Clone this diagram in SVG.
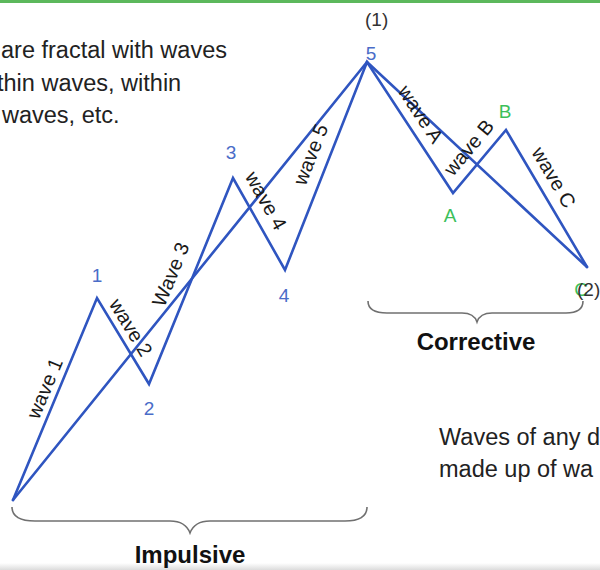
<svg xmlns="http://www.w3.org/2000/svg" width="600" height="570" viewBox="0 0 600 570">
<defs>
<style>
.wl{stroke:#2f55c0;stroke-width:2.6;fill:none;stroke-linejoin:miter;stroke-linecap:round}
.br{stroke:#707070;stroke-width:1.6;fill:none}
.lbl{font-family:"Liberation Sans",Arial,sans-serif;font-size:20px;fill:#1a1a1a;text-anchor:middle}
.num{font-family:"Liberation Sans",Arial,sans-serif;font-size:19px;fill:#4a6cc8;text-anchor:middle}
.grn{font-family:"Liberation Sans",Arial,sans-serif;font-size:19px;fill:#3cbf5a;text-anchor:middle}
.par{font-family:"Liberation Sans",Arial,sans-serif;font-size:19px;fill:#333;}
.body{font-family:"Liberation Sans",Arial,sans-serif;font-size:23.5px;fill:#222}
.bold{font-family:"Liberation Sans",Arial,sans-serif;font-size:24px;font-weight:bold;fill:#111;text-anchor:middle}
</style>
<linearGradient id="shade" x1="0" y1="0" x2="0" y2="1">
<stop offset="0" stop-color="#ffffff"/>
<stop offset="1" stop-color="#dcdcdc"/>
</linearGradient>
</defs>
<rect x="0" y="0" width="600" height="570" fill="#ffffff"/>
<rect x="0" y="0" width="600" height="3" fill="#5cb85c"/>
<rect x="0" y="563" width="600" height="7" fill="url(#shade)"/>

<g id="connectors">
<polyline class="wl" points="13,500 97,298 149,384 233,178 285,270 367,62 453,193 506,130 587,267"/>
<line class="wl" x1="13" y1="500" x2="367" y2="62"/>
<line class="wl" x1="367" y1="62" x2="587" y2="267"/>
</g>

<g id="wave-labels">
<text class="lbl" transform="translate(51,391) rotate(-67.4)">wave 1</text>
<text class="lbl" transform="translate(125,331) rotate(58.8)">wave 2</text>
<text class="lbl" transform="translate(177,277) rotate(-67.8)">Wave 3</text>
<text class="lbl" transform="translate(260,204) rotate(60.5)">wave 4</text>
<text class="lbl" transform="translate(317,157) rotate(-68.5)">wave 5</text>
<text class="lbl" transform="translate(415,118) rotate(56.7)">wave A</text>
<text class="lbl" transform="translate(474,152) rotate(-50)">wave B</text>
<text class="lbl" transform="translate(548,181) rotate(59.4)">wave C</text>
</g>

<g id="p1"><text class="num" x="97" y="282">1</text></g>
<g id="p2"><text class="num" x="149" y="415">2</text></g>
<g id="p3"><text class="num" x="231" y="159">3</text></g>
<g id="p4"><text class="num" x="284" y="302">4</text></g>
<g id="p5"><text class="num" x="371" y="60">5</text><text class="par" x="365" y="26">(1)</text></g>
<g id="pA"><text class="grn" x="450" y="222">A</text></g>
<g id="pB"><text class="grn" x="505" y="118">B</text></g>
<g id="pC"><text class="grn" x="581" y="296">C</text><text class="par" x="577" y="296">(2)</text></g>

<g id="intro-text">
<text class="body" x="1" y="58">are fractal with waves</text>
<text class="body" x="-3" y="91">thin waves, within</text>
<text class="body" x="2" y="123">waves, etc.</text>
</g>

<g id="note-text">
<text class="body" x="439" y="445">Waves of any d</text>
<text class="body" x="439" y="477">made up of wa</text>
</g>

<g id="impulsive">
<path class="br" d="M12,507 C12,516 19,521 35,521 L170,521 C181,521 187,525 190,533 C193,525 199,521 210,521 L345,521 C360,521 367,516 367,507"/>
<text class="bold" x="190" y="563">Impulsive</text>
</g>

<g id="corrective">
<path class="br" d="M368,301 C368,309 374,313 387,313 L462,313 C471,313 475,316 477,322 C479,316 483,313 492,313 L566,313 C578,313 583,309 583,301"/>
<text class="bold" x="476" y="350">Corrective</text>
</g>
</svg>
